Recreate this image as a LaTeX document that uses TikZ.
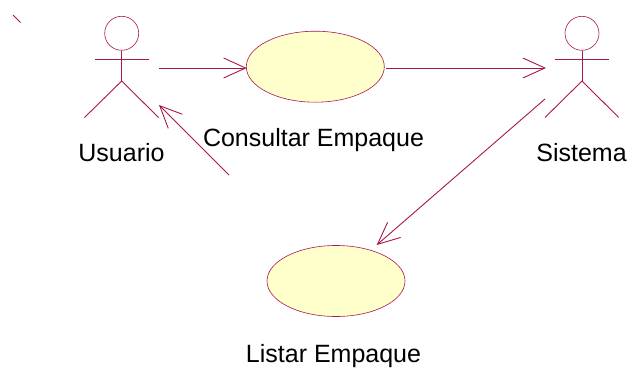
\documentclass[tikz,border=0pt]{standalone}
\usepackage{fontspec}
\setmainfont{Liberation Sans}
\usepackage{tikz}
\usetikzlibrary{arrows.meta,shapes.geometric,positioning}
\definecolor{umlline}{HTML}{A81750}
\definecolor{umlfill}{HTML}{FFFFCC}
\tikzset{
  usecase/.style = {ellipse, draw=umlline, fill=umlfill, line width=0.6pt, inner sep=0pt, minimum width=138pt, minimum height=71pt},
  actorhead/.style = {circle, draw=umlline, line width=0.6pt, inner sep=0pt, minimum size=34pt},
  label/.style = {font=\fontsize{25}{28}\selectfont, text=black, inner sep=0pt, anchor=base},
  limb/.style = {draw=umlline, line width=0.9pt},
  link/.style = {draw=umlline, line width=0.9pt, -{Straight Barb[length=22pt,width=20pt,line width=0.9pt]}}
}

\begin{document}
\begin{tikzpicture}[x=1pt,y=-1pt]
\useasboundingbox (0,0) rectangle (629,367);

% the stray tick in the corner
\coordinate (tick1) at (13,15);
\coordinate (tick2) at (20.5,22.5);
\draw[limb] (tick1) -- (tick2);

% use cases
\node[usecase] (consultar) at (315.3,66.7) {};
\node[usecase] (listar) at (336,281) {};

% first actor
\node[actorhead] (usuario) at (121.7,33.3) {};
\coordinate (usuarioarm1) at (95,59);
\coordinate (usuarioarm2) at (148.5,59);
\coordinate (usuariohip) at (121.7,81);
\coordinate (usuarioleg1) at (84.5,117.5);
\coordinate (usuarioleg2) at (158.5,117.5);
\draw[limb] (usuario.south) -- (usuariohip);
\draw[limb] (usuarioarm1) -- (usuarioarm2);
\draw[limb] (usuarioleg1) -- (usuariohip) -- (usuarioleg2);

% second actor
\node[actorhead] (sistema) at (582,33.3) {};
\coordinate (sistemaarm1) at (555,59);
\coordinate (sistemaarm2) at (608.7,59);
\coordinate (sistemahip) at (582,81);
\coordinate (sistemaleg1) at (545,117.5);
\coordinate (sistemaleg2) at (618.7,117.5);
\draw[limb] (sistema.south) -- (sistemahip);
\draw[limb] (sistemaarm1) -- (sistemaarm2);
\draw[limb] (sistemaleg1) -- (sistemahip) -- (sistemaleg2);

% labels
\node[label] (usuariotxt) at (121.5,161.5) {Usuario};
\node[label] (sistematxt) at (581.5,161.5) {Sistema};
\node[label] (consultartxt) at (313.5,146.7) {Consultar Empaque};
\node[label] (listartxt) at (333.5,362.3) {Listar Empaque};

% connectors
\coordinate (from1) at (159,68);
\coordinate (to1) at (246.7,68);
\coordinate (from2) at (229,175);
\coordinate (to2) at (159,105);
\coordinate (from3) at (386,68);
\coordinate (to3) at (546,68);
\coordinate (from4) at (545,99);
\coordinate (to4) at (376.7,245);
\draw[link] (from1) -- (to1);
\draw[link] (from3) -- (to3);
\draw[link] (from2) -- (to2);
\draw[link] (from4) -- (to4);
\end{tikzpicture}
\end{document}
